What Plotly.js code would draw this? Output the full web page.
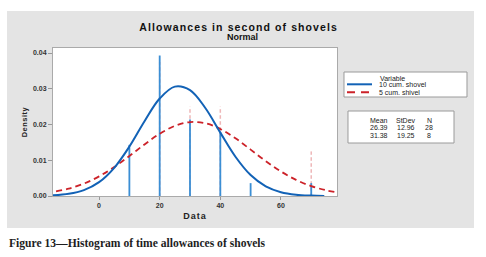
<!DOCTYPE html>
<html><head><meta charset="utf-8">
<script src="https://cdn.plot.ly/plotly-3.0.1.min.js"></script>
<style>
html,body{margin:0;padding:0;background:#fff;width:486px;height:257px;overflow:hidden}
#chart{position:absolute;left:7px;top:11px;width:467px;height:217px}
#cap{position:absolute;left:9px;top:237px;line-height:14px;font-family:"Liberation Serif","Times New Roman",serif;font-size:11.6px;font-weight:bold;color:#1e1e1e;white-space:nowrap}
</style></head><body>
<div id="chart"></div>
<div id="cap">Figure 13—Histogram of time allowances of shovels</div>
<script>
// Histogram bars (density)
const binCenters10 = [10, 20, 30, 40, 50, 70];
const density10 = [0.0143, 0.0393, 0.0214, 0.0179, 0.0036, 0.0036];
const binCenters5 = [20, 30, 40, 70];
const density5 = [0.0375, 0.025, 0.025, 0.0125];
// Fitted normal curves
const curveX10 = [-15.2, -10, -5, 0, 5, 10, 15, 20, 25, 30, 35, 40, 45, 50, 55, 60, 65, 70, 74.3];
const curveY10 = [0.00018, 0.0006, 0.00164, 0.00387, 0.00789, 0.01383, 0.02092, 0.02726, 0.0306, 0.02961, 0.02469, 0.01773, 0.01098, 0.00585, 0.00269, 0.00107, 0.00036, 0.00011, 0.00003];
const curveX5 = [-14.2, -10, -5, 0, 5, 10, 15, 20, 25, 30, 35, 40, 45, 50, 55, 60, 65, 70, 75, 78.5];
const curveY5 = [0.00129, 0.00206, 0.00347, 0.00549, 0.0081, 0.01119, 0.01443, 0.0174, 0.01962, 0.02067, 0.02036, 0.01875, 0.01614, 0.01298, 0.00976, 0.00686, 0.00451, 0.00277, 0.00159, 0.00104];
const seriesNames = ['10 cum. shovel', '5 cum. shivel'];
const legendTitle = 'Variable';
const statHeaders = ['Mean', 'StDev', 'N'];
const statRows = [['26.39', '12.96', '28'], ['31.38', '19.25', '8']];
const xTicks = [0, 20, 40, 60];
const yTicks = [0, 0.01, 0.02, 0.03, 0.04];

const blueBar = '#3b8ed4', blueLine = '#1262b6', redLine = '#cc2229', redBar = '#de6f72';

const traces = [
  {type:'bar', x:binCenters5, y:density5, width:0.5, name:seriesNames[1],
   marker:{color:'rgba(0,0,0,0)', line:{width:0},
     pattern:{shape:'-', fgcolor:redBar, bgcolor:'rgba(0,0,0,0)', size:6, solidity:0.6, fillmode:'overlay'}},
   hoverinfo:'skip'},
  {type:'bar', x:binCenters10, y:density10, width:0.6, name:seriesNames[0],
   marker:{color:blueBar, line:{width:0}}, hoverinfo:'skip'},
  {type:'scatter', mode:'lines', x:curveX5, y:curveY5, name:seriesNames[1],
   line:{color:redLine, width:1.8, dash:'6px,4px', shape:'spline', smoothing:1}},
  {type:'scatter', mode:'lines', x:curveX10, y:curveY10, name:seriesNames[0],
   line:{color:blueLine, width:2, shape:'spline', smoothing:1}}
];

const txt = {family:'Arial, "Liberation Sans", sans-serif', size:7, color:'#222'};
const annotations = [
  {text:'<b>Normal</b>', xref:'paper', yref:'paper', x:0.6655, y:1.0743, xanchor:'center', yanchor:'middle', showarrow:false,
   font:{family:txt.family, size:9, color:'#111'}},
  {text:legendTitle, xref:'paper', yref:'paper', x:1.197, y:0.7953, xanchor:'center', yanchor:'middle', showarrow:false, font:txt},
  {text:seriesNames[0], xref:'paper', yref:'paper', x:1.1408, y:0.7547, xanchor:'left', yanchor:'middle', showarrow:false, font:txt},
  {text:seriesNames[1], xref:'paper', yref:'paper', x:1.1408, y:0.7007, xanchor:'left', yanchor:'middle', showarrow:false, font:txt}
];
const colX = [1.1489, 1.2419, 1.3250];
const rowY = [0.5135, 0.4615, 0.4101];
statHeaders.forEach((h, i) => annotations.push({text:h, xref:'paper', yref:'paper', x:colX[i], y:rowY[0], xanchor:'center', yanchor:'middle', showarrow:false, font:txt}));
statRows.forEach((r, j) => r.forEach((v, i) => annotations.push({text:v, xref:'paper', yref:'paper', x:colX[i], y:rowY[j+1], xanchor:'center', yanchor:'middle', showarrow:false, font:txt})));

const shapes = [
  {type:'rect', xref:'paper', yref:'paper', x0:1.0246, x1:1.4577, y0:0.6689, y1:0.8378, line:{color:'#9a9a9a', width:1}, fillcolor:'#ffffff'},
  {type:'line', xref:'paper', yref:'paper', x0:1.0352, x1:1.1232, y0:0.7547, y1:0.7547, line:{color:blueLine, width:2}},
  {type:'line', xref:'paper', yref:'paper', x0:1.0352, x1:1.1232, y0:0.7007, y1:0.7007, line:{color:redLine, width:2, dash:'8px,6px'}},
  {type:'rect', xref:'paper', yref:'paper', x0:1.0387, x1:1.4120, y0:0.3581, y1:0.5743, line:{color:'#9a9a9a', width:1}, fillcolor:'#ffffff'}
];

const layout = {
  width:467, height:217,
  margin:{l:46, r:137, t:37, b:32, pad:0},
  paper_bgcolor:'#e4e4e4', plot_bgcolor:'#ffffff',
  showlegend:false, barmode:'overlay',
  font:{family:txt.family, color:'#222'},
  title:{text:'<span style="letter-spacing:1.1px">Allowances in second of shovels</span>',
    font:{family:txt.family, size:10.5, weight:'bold', color:'#111'},
    xref:'container', x:0.496, xanchor:'center', yref:'container', y:0.9263, yanchor:'middle'},
  xaxis:{range:[-15.2, 78.5], tickvals:xTicks, ticks:'outside', ticklen:3, tickcolor:'#999', tickwidth:1,
    showgrid:false, zeroline:false, showline:true, mirror:true, linecolor:'#aaa', linewidth:1,
    tickfont:{family:txt.family, size:7, weight:'bold', color:'#333'},
    title:{text:'<span style="letter-spacing:1px">Data</span>', font:{family:txt.family, size:9, weight:'bold', color:'#222'}, standoff:4}},
  yaxis:{range:[0, 0.0414], tickvals:yTicks, tickformat:'.2f', ticks:'outside', ticklen:4, tickcolor:'#999', tickwidth:1,
    showgrid:false, zeroline:false, showline:true, mirror:true, linecolor:'#aaa', linewidth:1,
    tickfont:{family:txt.family, size:7, weight:'bold', color:'#333'},
    title:{text:'<span style="letter-spacing:0.5px">Density</span>', font:{family:txt.family, size:7.5, weight:'bold', color:'#222'}, standoff:4}},
  shapes:shapes, annotations:annotations
};

Plotly.newPlot('chart', traces, layout, {staticPlot:true, displayModeBar:false});
</script>
</body></html>
